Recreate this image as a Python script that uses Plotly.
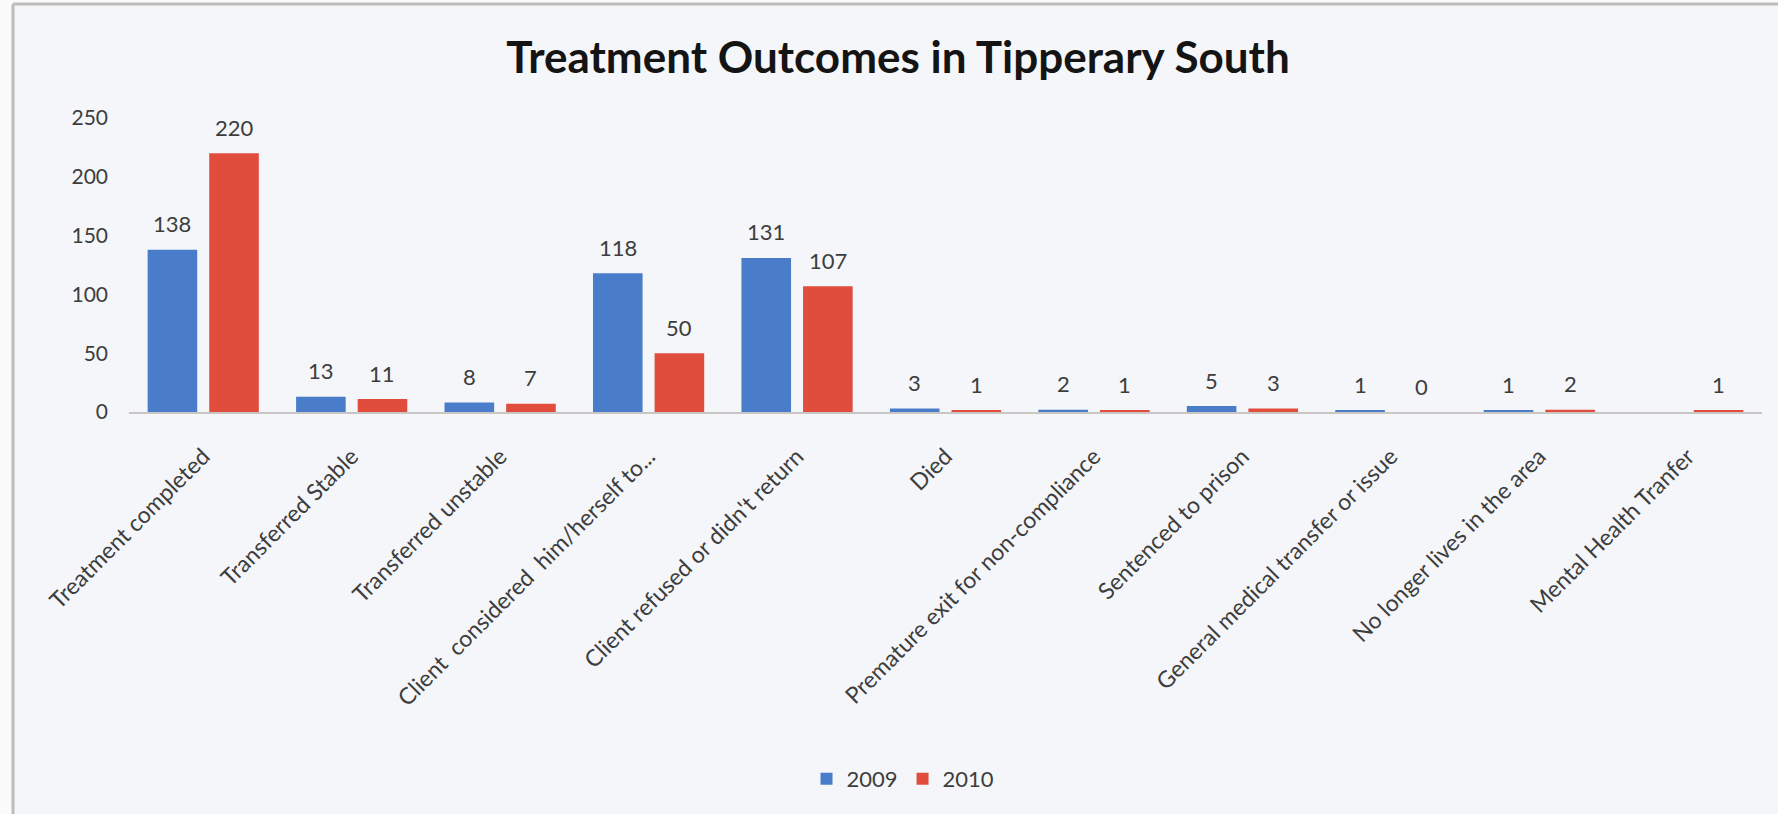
import plotly.graph_objects as go

# Treatment outcome counts by year
categories = [
    "Treatment completed",
    "Transferred Stable",
    "Transferred unstable",
    "Client  considered  him/herself to...",
    "Client refused or didn't return",
    "Died",
    "Premature exit for non-compliance",
    "Sentenced to prison",
    "General medical transfer or issue",
    "No longer lives in the area",
    "Mental Health Tranfer",
]
values_2009 = [138, 13, 8, 118, 131, 3, 2, 5, 1, 1, None]
values_2010 = [220, 11, 7, 50, 107, 1, 1, 3, 0, 2, 1]
y_ticks = [0, 50, 100, 150, 200, 250]

BLUE = "#4a7dc9"
RED = "#e14d3d"
FONT = "Lato"
TEXT = "#3d3d3d"

W, H = 1778, 814
M_L, M_R, M_T, M_B = 129, 16, 118, 402
BARGAP = 0.17
GROUPGAP = 0.195

fig = go.Figure()
fig.add_trace(go.Bar(name="2009", x=categories, y=values_2009, marker_color=BLUE,
                     marker_line_width=0))
fig.add_trace(go.Bar(name="2010", x=categories, y=values_2010, marker_color=RED,
                     marker_line_width=0))

# value labels above each bar, centred on the bar within its group
slot = (1 - BARGAP) / 2
for series, sign in ((values_2009, -1), (values_2010, 1)):
    for i, v in enumerate(series):
        if v is None:
            continue
        fig.add_annotation(x=i + sign * slot / 2, y=v, xref="x", yref="y",
                           text=str(v), showarrow=False, yanchor="middle",
                           yshift=26, font=dict(family=FONT, size=22, color=TEXT))

# framed panel behind the chart (only the top and left edges fall inside the page)
pw = W - M_L - M_R
ph = H - M_T - M_B
def px_x(p):
    return (p - M_L) / pw
def px_y(p):
    return (H - M_B - p) / ph

fig.add_shape(type="rect", xref="paper", yref="paper",
              x0=px_x(13), x1=px_x(W + 40), y0=px_y(H + 40), y1=px_y(4),
              line=dict(width=0), fillcolor="#f4f6f9", layer="below")
fig.add_shape(type="line", xref="paper", yref="paper",
              x0=px_x(13), x1=px_x(W + 40), y0=px_y(4), y1=px_y(4),
              line=dict(color="#bcbcbc", width=3), layer="below")
fig.add_shape(type="line", xref="paper", yref="paper",
              x0=px_x(13), x1=px_x(13), y0=px_y(4), y1=px_y(H + 40),
              line=dict(color="#bcbcbc", width=3), layer="below")

fig.update_layout(
    width=W, height=H,
    margin=dict(l=M_L, r=M_R, t=M_T, b=M_B),
    paper_bgcolor="#fbfbfb",
    plot_bgcolor="rgba(0,0,0,0)",
    barmode="group", bargap=BARGAP, bargroupgap=GROUPGAP,
    title=dict(text="<b>Treatment Outcomes in Tipperary South</b>",
               x=898 / W, xanchor="center", xref="container",
               y=1 - 58 / H, yanchor="middle", yref="container",
               font=dict(family=FONT, size=44, color="#141414")),
    font=dict(family=FONT, size=21, color=TEXT),
    showlegend=True,
    legend=dict(orientation="h", x=903 / W, xanchor="center", xref="container",
                y=1 - 779 / H, yanchor="middle", yref="container",
                font=dict(family=FONT, size=22, color=TEXT),
                bgcolor="rgba(0,0,0,0)", itemclick=False),
    xaxis=dict(type="category", range=[-0.5, len(categories) - 0.5],
               showline=True, linecolor="#c9c6c4", linewidth=2,
               tickangle=-45, ticks="", showgrid=False, zeroline=False,
               ticklabelstandoff=20,
               tickfont=dict(family=FONT, size=23, color=TEXT)),
    yaxis=dict(range=[0, 250], tickvals=y_ticks, showgrid=False, zeroline=False,
               showline=False, ticks="", ticklabelstandoff=20,
               tickfont=dict(family=FONT, size=21, color=TEXT)),
)

fig.write_html("out.html")
